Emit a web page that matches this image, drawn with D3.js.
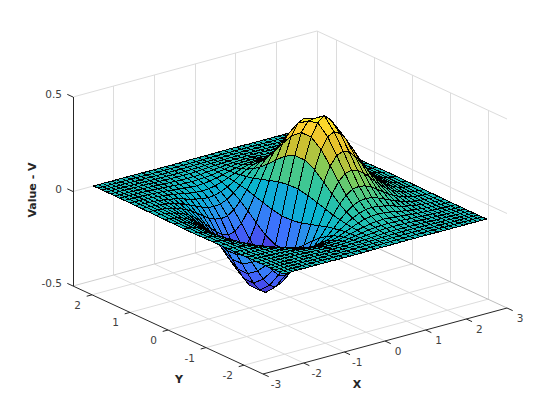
<!DOCTYPE html>
<html lang="en">
<head>
<meta charset="UTF-8" />
<title>Value - V surface</title>
<script src="https://d3js.org/d3.v7.min.js"></script>
<style>
  body { margin: 0; background: #fff; }
  svg { display: block; }
  text { font-family: "DejaVu Sans", sans-serif; font-size: 10.5px; fill: #404040; }
  .axis-label { font-weight: bold; font-size: 11px; fill: #262626; }
</style>
</head>
<body>
<svg id="chart" width="560" height="420"></svg>
<script>
  const xTicks = [-3, -2, -1, 0, 1, 2, 3];
  const yTicks = [-2, -1, 0, 1, 2];
  const zTicks = [-0.5, 0, 0.5];
  const zTickLabels = ["-0.5", "0", "0.5"];

  // the mesh is coarser in the middle than at the edges
  const xGrid = [-2.5, -2.38, -2.27, -2.16, -2.05, -1.93, -1.81, -1.69, -1.56, -1.43, -1.3, -1.16, -1.02, -.87, -.72, -.56, -.4, -.24, -.08, .08, .24, .4, .56, .72, .87, 1.02, 1.16, 1.3, 1.43, 1.56, 1.69, 1.81, 1.93, 2.05, 2.16, 2.27, 2.38, 2.5];
  const yGrid = [-2.5, -2.38, -2.27, -2.16, -2.05, -1.93, -1.81, -1.68, -1.54, -1.39, -1.23, -1.05, -.85, -.63, -.39, -.13, .13, .39, .63, .85, 1.05, 1.23, 1.39, 1.54, 1.68, 1.81, 1.93, 2.05, 2.16, 2.27, 2.38, 2.5];

  // rows run along y, columns along x
  const zRows = [
    [0,0,0,0,0,0,0,0,0,0,0,-.001,-.001,-.001,-.001,-.001,-.001,0,0,0,0,.001,.001,.001,.001,.001,.001,0,0,0,0,0,0,0,0,0,0,0],
    [0,0,0,0,0,0,0,0,0,-.001,-.001,-.001,-.001,-.001,-.001,-.001,-.001,-.001,0,0,.001,.001,.001,.001,.001,.001,.001,.001,.001,0,0,0,0,0,0,0,0,0],
    [0,0,0,0,0,0,0,-.001,-.001,-.001,-.001,-.002,-.002,-.002,-.002,-.002,-.002,-.001,0,0,.001,.002,.002,.002,.002,.002,.002,.001,.001,.001,.001,0,0,0,0,0,0,0],
    [0,0,0,0,0,0,-.001,-.001,-.001,-.002,-.002,-.003,-.003,-.004,-.004,-.004,-.003,-.002,-.001,.001,.002,.003,.004,.004,.004,.003,.003,.002,.002,.001,.001,.001,0,0,0,0,0,0],
    [0,0,0,0,0,-.001,-.001,-.001,-.002,-.003,-.004,-.005,-.005,-.006,-.006,-.006,-.005,-.003,-.001,.001,.003,.005,.006,.006,.006,.005,.005,.004,.003,.002,.001,.001,.001,0,0,0,0,0],
    [0,0,0,0,-.001,-.001,-.002,-.002,-.003,-.004,-.006,-.007,-.009,-.010,-.010,-.010,-.008,-.005,-.002,.002,.005,.008,.010,.010,.010,.009,.007,.006,.004,.003,.002,.002,.001,.001,0,0,0,0],
    [0,0,0,-.001,-.001,-.002,-.003,-.004,-.005,-.007,-.009,-.011,-.014,-.015,-.016,-.015,-.013,-.009,-.003,.003,.009,.013,.015,.016,.015,.014,.011,.009,.007,.005,.004,.003,.002,.001,.001,0,0,0],
    [0,0,-.001,-.001,-.002,-.003,-.004,-.006,-.008,-.011,-.014,-.018,-.021,-.024,-.026,-.024,-.020,-.013,-.005,.005,.013,.020,.024,.026,.024,.021,.018,.014,.011,.008,.006,.004,.003,.002,.001,.001,0,0],
    [0,-.001,-.001,-.002,-.003,-.004,-.006,-.009,-.013,-.017,-.022,-.028,-.034,-.038,-.040,-.038,-.032,-.021,-.007,.007,.021,.032,.038,.040,.038,.034,.028,.022,.017,.013,.009,.006,.004,.003,.002,.001,.001,0],
    [-.001,-.001,-.002,-.003,-.004,-.007,-.010,-.014,-.020,-.027,-.035,-.044,-.052,-.059,-.062,-.059,-.049,-.033,-.012,.012,.033,.049,.059,.062,.059,.052,.044,.035,.027,.020,.014,.010,.007,.004,.003,.002,.001,.001],
    [-.001,-.002,-.003,-.004,-.007,-.010,-.015,-.021,-.030,-.041,-.053,-.067,-.079,-.090,-.094,-.090,-.075,-.050,-.018,.018,.050,.075,.090,.094,.090,.079,.067,.053,.041,.030,.021,.015,.010,.007,.004,.003,.002,.001],
    [-.002,-.003,-.004,-.007,-.010,-.015,-.023,-.032,-.045,-.061,-.080,-.100,-.120,-.135,-.142,-.136,-.113,-.075,-.026,.026,.075,.113,.136,.142,.135,.120,.100,.080,.061,.045,.032,.023,.015,.010,.007,.004,.003,.002],
    [-.002,-.004,-.006,-.010,-.015,-.023,-.033,-.047,-.066,-.090,-.116,-.147,-.175,-.198,-.208,-.199,-.166,-.110,-.039,.039,.110,.166,.199,.208,.198,.175,.147,.116,.090,.066,.047,.033,.023,.015,.010,.006,.004,.002],
    [-.003,-.006,-.009,-.014,-.021,-.031,-.046,-.065,-.092,-.124,-.161,-.203,-.242,-.274,-.288,-.275,-.229,-.152,-.053,.053,.152,.229,.275,.288,.274,.242,.203,.161,.124,.092,.065,.046,.031,.021,.014,.009,.006,.003],
    [-.004,-.007,-.011,-.017,-.026,-.040,-.059,-.083,-.117,-.159,-.206,-.259,-.310,-.351,-.368,-.352,-.293,-.195,-.068,.068,.195,.293,.352,.368,.351,.310,.259,.206,.159,.117,.083,.059,.040,.026,.017,.011,.007,.004],
    [-.005,-.008,-.013,-.020,-.030,-.046,-.067,-.096,-.135,-.182,-.236,-.297,-.354,-.401,-.422,-.402,-.335,-.223,-.078,.078,.223,.335,.402,.430,.401,.354,.297,.236,.182,.135,.096,.067,.046,.030,.020,.013,.008,.005],
    [-.005,-.008,-.013,-.020,-.030,-.046,-.067,-.096,-.135,-.182,-.236,-.297,-.354,-.401,-.422,-.402,-.335,-.223,-.078,.078,.223,.335,.385,.390,.385,.354,.297,.236,.182,.135,.096,.067,.046,.030,.020,.013,.008,.005],
    [-.004,-.007,-.011,-.017,-.026,-.040,-.059,-.083,-.117,-.159,-.206,-.259,-.310,-.351,-.368,-.352,-.293,-.195,-.068,.068,.195,.293,.352,.368,.351,.310,.259,.206,.159,.117,.083,.059,.040,.026,.017,.011,.007,.004],
    [-.003,-.006,-.009,-.014,-.021,-.031,-.046,-.065,-.092,-.124,-.161,-.203,-.242,-.274,-.288,-.275,-.229,-.152,-.053,.053,.152,.229,.275,.288,.274,.242,.203,.161,.124,.092,.065,.046,.031,.021,.014,.009,.006,.003],
    [-.002,-.004,-.006,-.010,-.015,-.023,-.033,-.047,-.066,-.090,-.116,-.147,-.175,-.198,-.208,-.199,-.166,-.110,-.039,.039,.110,.166,.199,.208,.198,.175,.147,.116,.090,.066,.047,.033,.023,.015,.010,.006,.004,.002],
    [-.002,-.003,-.004,-.007,-.010,-.015,-.023,-.032,-.045,-.061,-.080,-.100,-.120,-.135,-.142,-.136,-.113,-.075,-.026,.026,.075,.113,.136,.142,.135,.120,.100,.080,.061,.045,.032,.023,.015,.010,.007,.004,.003,.002],
    [-.001,-.002,-.003,-.004,-.007,-.010,-.015,-.021,-.030,-.041,-.053,-.067,-.079,-.090,-.094,-.090,-.075,-.050,-.018,.018,.050,.075,.090,.094,.090,.079,.067,.053,.041,.030,.021,.015,.010,.007,.004,.003,.002,.001],
    [-.001,-.001,-.002,-.003,-.004,-.007,-.010,-.014,-.020,-.027,-.035,-.044,-.052,-.059,-.062,-.059,-.049,-.033,-.012,.012,.033,.049,.059,.062,.059,.052,.044,.035,.027,.020,.014,.010,.007,.004,.003,.002,.001,.001],
    [0,-.001,-.001,-.002,-.003,-.004,-.006,-.009,-.013,-.017,-.022,-.028,-.034,-.038,-.040,-.038,-.032,-.021,-.007,.007,.021,.032,.038,.040,.038,.034,.028,.022,.017,.013,.009,.006,.004,.003,.002,.001,.001,0],
    [0,0,-.001,-.001,-.002,-.003,-.004,-.006,-.008,-.011,-.014,-.018,-.021,-.024,-.026,-.024,-.020,-.013,-.005,.005,.013,.020,.024,.026,.024,.021,.018,.014,.011,.008,.006,.004,.003,.002,.001,.001,0,0],
    [0,0,0,-.001,-.001,-.002,-.003,-.004,-.005,-.007,-.009,-.011,-.014,-.015,-.016,-.015,-.013,-.009,-.003,.003,.009,.013,.015,.016,.015,.014,.011,.009,.007,.005,.004,.003,.002,.001,.001,0,0,0],
    [0,0,0,0,-.001,-.001,-.002,-.002,-.003,-.004,-.006,-.007,-.009,-.010,-.010,-.010,-.008,-.005,-.002,.002,.005,.008,.010,.010,.010,.009,.007,.006,.004,.003,.002,.002,.001,.001,0,0,0,0],
    [0,0,0,0,0,-.001,-.001,-.001,-.002,-.003,-.004,-.005,-.005,-.006,-.006,-.006,-.005,-.003,-.001,.001,.003,.005,.006,.006,.006,.005,.005,.004,.003,.002,.001,.001,.001,0,0,0,0,0],
    [0,0,0,0,0,0,-.001,-.001,-.001,-.002,-.002,-.003,-.003,-.004,-.004,-.004,-.003,-.002,-.001,.001,.002,.003,.004,.004,.004,.003,.003,.002,.002,.001,.001,.001,0,0,0,0,0,0],
    [0,0,0,0,0,0,0,-.001,-.001,-.001,-.001,-.002,-.002,-.002,-.002,-.002,-.002,-.001,0,0,.001,.002,.002,.002,.002,.002,.002,.001,.001,.001,.001,0,0,0,0,0,0,0],
    [0,0,0,0,0,0,0,0,0,-.001,-.001,-.001,-.001,-.001,-.001,-.001,-.001,-.001,0,0,.001,.001,.001,.001,.001,.001,.001,.001,.001,0,0,0,0,0,0,0,0,0],
    [0,0,0,0,0,0,0,0,0,0,0,-.001,-.001,-.001,-.001,-.001,-.001,0,0,0,0,.001,.001,.001,.001,.001,.001,0,0,0,0,0,0,0,0,0,0,0]
  ];

  const parula = ["#3e26a8", "#4747eb", "#3e6fff", "#2796eb", "#08b5d0", "#31c69f", "#81cc59", "#dcbd29", "#fccf30", "#f9fb15"];

  const svg = d3.select("#chart");

  // screen offsets from the front floor corner (x=-3, y=-2.5, z=-0.5)
  const originX = 263, originY = 374;
  const xToPx = d3.scaleLinear().domain([-3, 3]).range([0, 244]);
  const xToPy = d3.scaleLinear().domain([-3, 3]).range([0, -66]);
  const yToPx = d3.scaleLinear().domain([-2.5, 2.5]).range([0, -190]);
  const yToPy = d3.scaleLinear().domain([-2.5, 2.5]).range([0, -88]);
  const zToPy = d3.scaleLinear().domain([-0.5, 0.5]).range([0, -189]);

  function project(x, y, z) {
    return [originX + xToPx(x) + yToPx(y), originY + xToPy(x) + yToPy(y) + zToPy(z)];
  }

  const line = d3.line();

  function seg(g, a, b, color, crisp) {
    const p = project(...a), q = project(...b);
    g.append("line")
      .attr("x1", p[0]).attr("y1", p[1]).attr("x2", q[0]).attr("y2", q[1])
      .attr("stroke", color).attr("stroke-width", 1)
      .attr("shape-rendering", crisp ? "crispEdges" : "auto");
  }

  // grid on the floor and the two back walls
  const grid = svg.append("g");
  const gridColor = "#dcdcdc";
  xTicks.slice(1, -1).forEach(x => {
    seg(grid, [x, -2.5, -0.5], [x, 2.5, -0.5], gridColor);
    seg(grid, [x, 2.5, -0.5], [x, 2.5, 0.5], gridColor, true);
  });
  yTicks.forEach(y => {
    seg(grid, [-3, y, -0.5], [3, y, -0.5], gridColor);
    seg(grid, [3, y, -0.5], [3, y, 0.5], gridColor, true);
  });
  zTicks.slice(1).forEach(z => {
    seg(grid, [-3, 2.5, z], [3, 2.5, z], gridColor);
    seg(grid, [3, 2.5, z], [3, -2.5, z], gridColor);
  });
  seg(grid, [3, 2.5, -0.5], [3, 2.5, 0.5], gridColor, true);
  seg(grid, [-3, 2.5, -0.5], [3, 2.5, -0.5], "#cfcfcf");
  seg(grid, [3, 2.5, -0.5], [3, -2.5, -0.5], "#bdbdbd");

  // surface, far cells first
  const allZ = zRows.flat();
  const color = d3.scaleLinear()
    .domain(d3.range(parula.length).map(i => d3.min(allZ) + i / (parula.length - 1) * (d3.max(allZ) - d3.min(allZ))))
    .range(parula);

  const cells = [];
  for (let j = xGrid.length - 2; j >= 0; j--) {
    for (let i = yGrid.length - 2; i >= 0; i--) {
      cells.push({ i, j });
    }
  }

  svg.append("g").selectAll("path")
    .data(cells)
    .enter().append("path")
    .attr("d", d => line([
      project(xGrid[d.j], yGrid[d.i], zRows[d.i][d.j]),
      project(xGrid[d.j + 1], yGrid[d.i], zRows[d.i][d.j + 1]),
      project(xGrid[d.j + 1], yGrid[d.i + 1], zRows[d.i + 1][d.j + 1]),
      project(xGrid[d.j], yGrid[d.i + 1], zRows[d.i + 1][d.j])
    ]) + "Z")
    .attr("fill", d => color(zRows[d.i][d.j]))
    .attr("stroke", "#000")
    .attr("stroke-width", 1)
    .attr("shape-rendering", "crispEdges");

  // axes
  const axes = svg.append("g");
  const axisColor = "#262626";
  seg(axes, [-3, 2.5, -0.5], [-3, 2.5, 0.5], axisColor, true);
  seg(axes, [-3, 2.5, -0.5], [-3, -2.5, -0.5], axisColor);
  seg(axes, [-3, -2.5, -0.5], [3, -2.5, -0.5], axisColor);

  xTicks.forEach(x => {
    seg(axes, [x, -2.5, -0.5], [x, -2.65, -0.5], axisColor);
    const p = project(x, -2.5, -0.5);
    axes.append("text").attr("x", p[0] + 13).attr("y", p[1] + 14).attr("text-anchor", "middle").text(x);
  });
  yTicks.forEach(y => {
    seg(axes, [-3, y, -0.5], [-3.13, y, -0.5], axisColor);
    const p = project(-3, y, -0.5);
    axes.append("text").attr("x", p[0] - 11).attr("y", p[1] + 14).attr("text-anchor", "end").text(y);
  });
  zTicks.forEach((z, k) => {
    seg(axes, [-3, 2.5, z], [-3, 2.65, z], axisColor);
    const p = project(-3, 2.5, z);
    axes.append("text").attr("x", p[0] - 11).attr("y", p[1] + 1).attr("text-anchor", "end").text(zTickLabels[k]);
  });

  axes.append("text").attr("class", "axis-label").attr("x", 357).attr("y", 388).attr("text-anchor", "middle").text("X");
  axes.append("text").attr("class", "axis-label").attr("x", 179).attr("y", 383).attr("text-anchor", "middle").text("Y");
  axes.append("text").attr("class", "axis-label")
    .attr("transform", "translate(36,190) rotate(-90)")
    .attr("text-anchor", "middle").text("Value - V");
</script>
</body>
</html>
